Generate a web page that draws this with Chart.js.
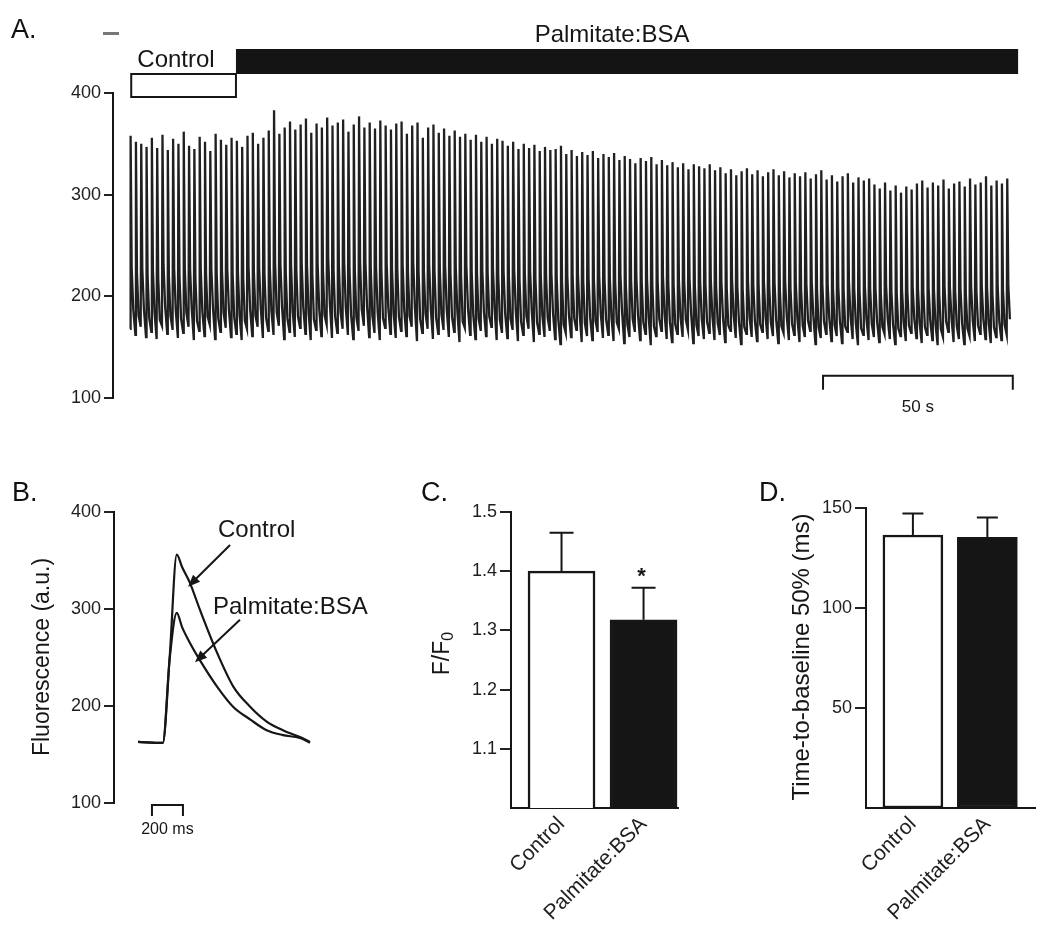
<!DOCTYPE html>
<html>
<head>
<meta charset="utf-8">
<script src="https://cdn.jsdelivr.net/npm/chart.js@4.4.0/dist/chart.umd.min.js"></script>
<style>
  body { margin: 0; background: #fff; }
  #wrap { position: relative; width: 1050px; height: 948px; overflow: hidden; font-family: 'Liberation Sans', Arial, sans-serif; }
  canvas { position: absolute; }
  .panel { position: absolute; font-size: 27px; color: #111; line-height: 1; }
</style>
</head>
<body>
<div id="wrap">
  <canvas id="chartA" style="left:0;top:0" width="1050" height="440"></canvas>
  <canvas id="chartB" style="left:0;top:440px" width="400" height="508"></canvas>
  <canvas id="chartC" style="left:400px;top:440px" width="330" height="508"></canvas>
  <canvas id="chartD" style="left:730px;top:440px" width="320" height="508"></canvas>
  <div class="panel" style="left:11px;top:16px">A.</div>
  <div class="panel" style="left:12px;top:479px">B.</div>
  <div class="panel" style="left:421px;top:479px">C.</div>
  <div class="panel" style="left:759px;top:479px">D.</div>
</div>
<script>
// ---- panel A: whole-cell Ca transients over time (s) ----
const beatInterval = 1.4;
const beatPeaks = [
  358, 352, 350, 347, 356, 346, 359, 344, 355, 350,
  362, 348, 345, 357, 352, 343, 360, 354, 349, 356,
  353, 347, 358, 361, 350, 356, 363, 383, 360, 366,
  372, 364, 369, 375, 361, 370, 366, 376, 368, 371,
  374, 362, 369, 377, 366, 371, 365, 373, 368, 364,
  370, 372, 360, 368, 371, 356, 366, 369, 361, 365,
  358, 363, 357, 360, 354, 359, 352, 357, 350, 355,
  353, 348, 352, 345, 350, 346, 349, 343, 347, 344,
  345, 348, 340, 344, 338, 342, 339, 343, 336, 340,
  337, 341, 334, 338, 335, 331, 336, 333, 337, 330,
  334, 329, 332, 327, 331, 325, 330, 328, 326, 330,
  324, 327, 321, 325, 319, 323, 326, 320, 324, 318,
  322, 325, 319, 323, 317, 321, 318, 322, 316, 320,
  324, 315, 319, 313, 318, 321, 312, 317, 314, 316,
  310, 306, 312, 304, 309, 302, 308, 305, 311, 314,
  307, 312, 309, 315, 306, 311, 313, 308, 316, 310,
  312, 318, 309, 314, 311, 316
];
const beatTroughs = [
  168, 162, 170, 160, 165, 158, 171, 163, 167, 159,
  164, 170, 157, 166, 161, 172, 158, 165, 169, 160,
  163, 157, 168, 161, 170, 159, 166, 162, 171, 158,
  165, 160, 169, 163, 157, 167, 161, 172, 159, 164,
  168, 162, 158, 166, 171, 160, 164, 157, 169, 163,
  159, 166, 161, 170, 156, 164, 168, 158, 163, 167,
  160, 165, 155, 169, 162, 158, 166, 161, 170, 157,
  164, 159, 167, 156, 162, 168, 155, 163, 160, 166,
  158, 153, 164, 160, 167, 155, 161, 157, 165, 159,
  162, 156, 168, 154, 160, 165, 157, 163, 152, 161,
  166, 158, 155, 163, 160, 167, 154, 161, 158, 164,
  157, 162, 155, 166, 159, 153, 163, 160, 156, 165,
  158, 161, 154, 164, 157, 162, 155, 160, 166, 153,
  159, 163, 156, 161, 154, 165, 158, 152, 162, 157,
  160, 155, 163, 158, 153, 161, 156, 164, 159, 154,
  162, 157, 152, 160, 165, 155, 158, 153, 161, 156,
  163, 158, 154, 160, 157, 162
];
// shape of one beat: fraction of the interval / fraction of the amplitude
const beatShapeTime = [0, 0.1, 0.3, 0.6];
const beatShapeLevel = [0, 1, 0.32, 0.1];
const yTicksA = [100, 200, 300, 400];
const conditionNames = ['Control', 'Palmitate:BSA'];
const conditionStart = [0.3, 27.9];
const conditionEnd = [27.9, 234];
const scaleBarA = [182.6, 232.6];   // 50 s

// ---- panel B: averaged transients (ms) ----
const transientTime = [0, 160, 205, 250, 285, 335, 400, 510, 615, 725, 830, 935, 1045, 1110];
const controlTransient = [163, 162, 252, 356, 343, 327, 299, 255, 220, 199, 184, 175, 168, 163];
const palmitateTransient = [163, 162, 250, 296, 281, 265, 247, 220, 199, 186, 175, 170, 167, 162];
const yTicksB = [100, 200, 300, 400];
const scaleBarB = [90, 290];        // 200 ms

// ---- panels C and D: bar summaries ----
const groupNames = ['Control', 'Palmitate:BSA'];
const amplitudeMean = [1.40, 1.318];
const amplitudeSem = [0.065, 0.054];
const yTicksC = [1.1, 1.2, 1.3, 1.4, 1.5];
const decayMean = [136.5, 135.3];
const decaySem = [10.8, 9.9];
const yTicksD = [50, 100, 150];

const FONT = "'Liberation Sans', Arial, sans-serif";
const INK = '#161616';

const tracePoints = [];
beatPeaks.forEach((peak, i) => {
  const base = beatTroughs[i];
  beatShapeTime.forEach((f, k) => {
    tracePoints.push({ x: (i + f) * beatInterval, y: base + beatShapeLevel[k] * (peak - base) });
  });
});

function yAxis(min, max, ticks, width, tickLen, fmt) {
  return {
    min: min, max: max,
    afterFit: s => { s.width = width; },
    afterBuildTicks: s => { s.ticks = ticks.map(v => ({ value: v })); },
    ticks: { color: '#1e1e1e', font: { family: FONT, size: 18 }, padding: 3, callback: fmt || (v => v) },
    grid: { drawOnChartArea: false, tickLength: tickLen, color: '#222', lineWidth: 2 },
    border: { color: INK, width: 2 }
  };
}

function rotatedText(ctx, text, x, y, size) {
  ctx.save();
  ctx.translate(x, y);
  ctx.rotate(-Math.PI / 2);
  ctx.font = size + 'px ' + FONT;
  ctx.fillStyle = INK;
  ctx.textAlign = 'center';
  ctx.textBaseline = 'middle';
  ctx.fillText(text, 0, 0);
  ctx.restore();
}

function arrow(ctx, x0, y0, x1, y1) {
  const a = Math.atan2(y1 - y0, x1 - x0);
  ctx.beginPath();
  ctx.moveTo(x0, y0);
  ctx.lineTo(x1 - 8 * Math.cos(a), y1 - 8 * Math.sin(a));
  ctx.stroke();
  ctx.beginPath();
  ctx.moveTo(x1, y1);
  ctx.lineTo(x1 - 12 * Math.cos(a) + 5 * Math.sin(a), y1 - 12 * Math.sin(a) - 5 * Math.cos(a));
  ctx.lineTo(x1 - 12 * Math.cos(a) - 5 * Math.sin(a), y1 - 12 * Math.sin(a) + 5 * Math.cos(a));
  ctx.closePath();
  ctx.fill();
}

const base = {
  responsive: false, animation: false, devicePixelRatio: 1,
  plugins: { legend: { display: false }, tooltip: { enabled: false } }
};

// ---------------- A ----------------
new Chart(document.getElementById('chartA'), {
  type: 'line',
  data: { datasets: [{ data: tracePoints, borderColor: '#202020', borderWidth: 2.3, pointRadius: 0, tension: 0 }] },
  options: Object.assign({}, base, {
    layout: { padding: { left: 0, top: 93, right: 30, bottom: 42 } },
    scales: {
      x: { type: 'linear', display: false, min: -4.5, max: 234.5 },
      y: yAxis(100, 400, yTicksA, 113, 9)
    }
  }),
  plugins: [{
    id: 'annotA',
    afterDraw(chart) {
      const ctx = chart.ctx, x = chart.scales.x, y = chart.scales.y;
      ctx.save();
      // condition bars
      const c0 = x.getPixelForValue(conditionStart[0]), c1 = x.getPixelForValue(conditionEnd[0]);
      ctx.strokeStyle = INK; ctx.lineWidth = 2;
      ctx.strokeRect(c0, 74, c1 - c0, 23);
      const p0 = x.getPixelForValue(conditionStart[1]), p1 = x.getPixelForValue(conditionEnd[1]);
      ctx.fillStyle = '#141414';
      ctx.fillRect(p0, 49, p1 - p0, 25);
      ctx.font = '24px ' + FONT;
      ctx.textAlign = 'center'; ctx.textBaseline = 'alphabetic';
      ctx.fillStyle = INK;
      ctx.fillText(conditionNames[0], x.getPixelForValue(12.1), 67);
      ctx.fillText(conditionNames[1], x.getPixelForValue(127), 42);
      // stray mark next to panel letter
      ctx.fillStyle = '#777';
      ctx.fillRect(103, 32, 16, 3);
      // 50 s scale bar
      const s0 = x.getPixelForValue(scaleBarA[0]), s1 = x.getPixelForValue(scaleBarA[1]);
      const sy = y.getPixelForValue(122);
      ctx.strokeStyle = INK; ctx.lineWidth = 2;
      ctx.beginPath();
      ctx.moveTo(s0, sy + 14); ctx.lineTo(s0, sy); ctx.lineTo(s1, sy); ctx.lineTo(s1, sy + 14);
      ctx.stroke();
      ctx.font = '17px ' + FONT;
      ctx.fillStyle = INK;
      ctx.textBaseline = 'middle';
      ctx.fillText('50 s', (s0 + s1) / 2, sy + 32);
      ctx.restore();
    }
  }]
});

// ---------------- B ----------------
new Chart(document.getElementById('chartB'), {
  type: 'line',
  data: {
    labels: transientTime,
    datasets: [
      { data: transientTime.map((t, i) => ({ x: t, y: controlTransient[i] })), borderColor: INK, borderWidth: 2.2, pointRadius: 0, cubicInterpolationMode: 'monotone' },
      { data: transientTime.map((t, i) => ({ x: t, y: palmitateTransient[i] })), borderColor: INK, borderWidth: 2.2, pointRadius: 0, cubicInterpolationMode: 'monotone' }
    ]
  },
  options: Object.assign({}, base, {
    layout: { padding: { left: 0, top: 72, right: 70, bottom: 145 } },
    scales: {
      x: { type: 'linear', display: false, min: -155, max: 1239 },
      y: yAxis(100, 400, yTicksB, 114, 10)
    }
  }),
  plugins: [{
    id: 'annotB',
    afterDraw(chart) {
      const ctx = chart.ctx, x = chart.scales.x, y = chart.scales.y;
      const px = (t, v) => [x.getPixelForValue(t), y.getPixelForValue(v)];
      ctx.save();
      rotatedText(ctx, 'Fluorescence (a.u.)', 43, 217, 23);
      ctx.font = '24px ' + FONT;
      ctx.fillStyle = INK; ctx.strokeStyle = INK; ctx.lineWidth = 2;
      ctx.textAlign = 'left'; ctx.textBaseline = 'middle';
      let p = px(516, 381); ctx.fillText('Control', p[0], p[1]);
      p = px(484, 302); ctx.fillText('Palmitate:BSA', p[0], p[1]);
      let a = px(594, 366), b = px(323, 323);
      arrow(ctx, a[0], a[1], b[0], b[1]);
      a = px(658, 289); b = px(368, 245);
      arrow(ctx, a[0], a[1], b[0], b[1]);
      // 200 ms scale bar
      const s0 = x.getPixelForValue(scaleBarB[0]), s1 = x.getPixelForValue(scaleBarB[1]);
      const sy = y.getPixelForValue(100) + 2;
      ctx.beginPath();
      ctx.moveTo(s0, sy + 11); ctx.lineTo(s0, sy); ctx.lineTo(s1, sy); ctx.lineTo(s1, sy + 11);
      ctx.stroke();
      ctx.font = '16px ' + FONT;
      ctx.textAlign = 'center';
      ctx.fillText('200 ms', (s0 + s1) / 2, sy + 25);
      ctx.restore();
    }
  }]
});

// ---------------- C and D ----------------
function barPanel(id, means, sems, yMin, yMax, yTicks, yWidth, xMin, xMax, thickness, capW, pad, fmt, title, titleX, star) {
  new Chart(document.getElementById(id), {
    type: 'bar',
    data: {
      datasets: [{
        data: means.map((m, i) => ({ x: i, y: m })),
        backgroundColor: ['#ffffff', '#151515'],
        borderColor: INK, borderWidth: 2.5, borderSkipped: false,
        barThickness: thickness
      }]
    },
    options: Object.assign({}, base, {
      layout: { padding: pad },
      scales: {
        x: {
          type: 'linear', min: xMin, max: xMax, offset: false,
          afterBuildTicks: s => { s.ticks = groupNames.map((n, i) => ({ value: i })); },
          afterFit: s => { s.height = 140; },
          ticks: { autoSkip: false, minRotation: 45, maxRotation: 45, padding: 4, color: '#1e1e1e',
                   font: { family: FONT, size: 21 }, callback: v => groupNames[v] },
          grid: { display: false, drawTicks: false },
          border: { display: true, color: INK, width: 2 }
        },
        y: yAxis(yMin, yMax, yTicks, yWidth, 11, fmt)
      }
    }),
    plugins: [{
      id: 'err' + id,
      afterDatasetsDraw(chart) {
        const ctx = chart.ctx, x = chart.scales.x, y = chart.scales.y;
        ctx.save();
        ctx.strokeStyle = INK; ctx.lineWidth = 2;
        means.forEach((m, i) => {
          const cx = x.getPixelForValue(i);
          const top = y.getPixelForValue(m + sems[i]);
          ctx.beginPath();
          ctx.moveTo(cx, y.getPixelForValue(m)); ctx.lineTo(cx, top);
          ctx.moveTo(cx - capW / 2, top); ctx.lineTo(cx + capW / 2, top);
          ctx.stroke();
        });
        if (star) {
          ctx.fillStyle = INK;
          ctx.font = 'bold 22px ' + FONT;
          ctx.textAlign = 'center'; ctx.textBaseline = 'middle';
          ctx.fillText('*', x.getPixelForValue(1) - 2, y.getPixelForValue(means[1] + sems[1]) - 11);
        }
        title(ctx, titleX);
        ctx.restore();
      }
    }]
  });
}

barPanel('chartC', amplitudeMean, amplitudeSem, 1.0, 1.5, yTicksC, 111, -0.616, 1.42, 67, 24,
  { left: 0, top: 72, right: 52, bottom: 0 }, v => v.toFixed(1),
  (ctx, tx) => {
    ctx.save();
    ctx.translate(tx, 213);
    ctx.rotate(-Math.PI / 2);
    ctx.fillStyle = INK;
    ctx.textBaseline = 'middle';
    ctx.textAlign = 'left';
    ctx.font = '23px ' + FONT;
    const w = ctx.measureText('F/F').width;
    ctx.fillText('F/F', -(w + 10) / 2, 0);
    ctx.font = '16px ' + FONT;
    ctx.fillText('0', -(w + 10) / 2 + w, 6);
    ctx.restore();
  }, 43, true);

barPanel('chartD', decayMean, decaySem, 0, 150, yTicksD, 136, -0.63, 1.64, 60, 21,
  { left: 0, top: 68, right: 15, bottom: 0 }, v => v,
  (ctx, tx) => rotatedText(ctx, 'Time-to-baseline 50% (ms)', tx, 217, 24), 72, false);
</script>
</body>
</html>
